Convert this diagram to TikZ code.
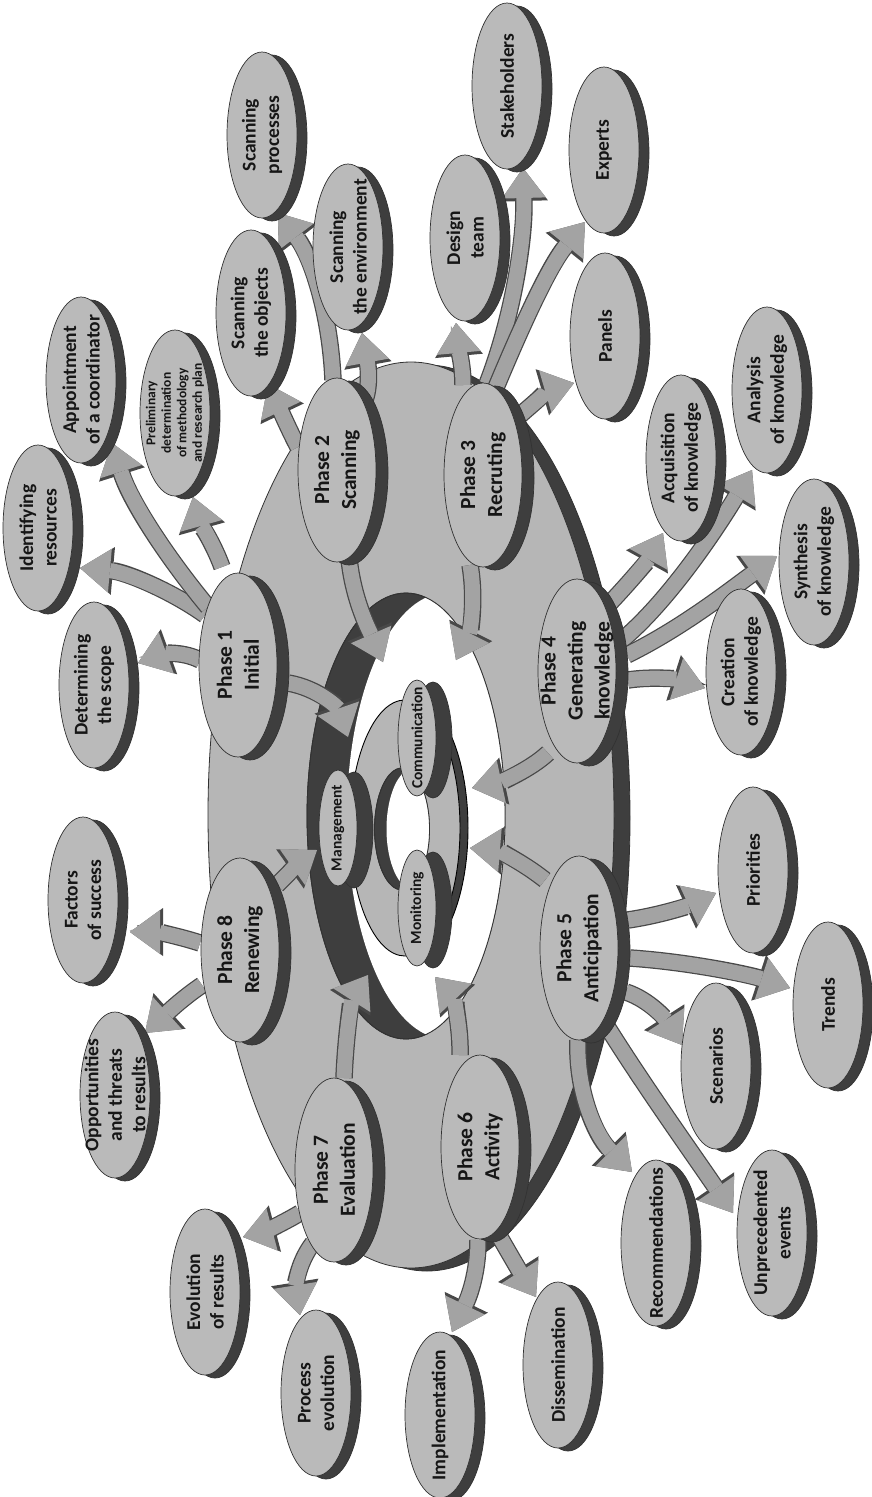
\documentclass[tikz,border=0pt]{standalone}
\usepackage{fontspec}
\setmainfont{Carlito}
\usetikzlibrary{arrows.meta,shapes.geometric,shadows}
\definecolor{facegray}{RGB}{186,186,186}
\definecolor{ringgray}{RGB}{182,182,182}
\definecolor{darkside}{RGB}{62,62,62}
\definecolor{edgegray}{RGB}{50,50,50}
\definecolor{arrowfill}{RGB}{163,163,163}
\definecolor{arrowedge}{RGB}{72,72,72}
\definecolor{txt}{RGB}{22,22,22}
\pgfdeclarelayer{ringlayer}
\pgfdeclarelayer{arrowlayer}
\pgfsetlayers{ringlayer,arrowlayer,main}
\tikzset{
  disk/.style={ellipse, inner sep=0pt, outer sep=0pt, fill=facegray, draw=edgegray, line width=0.7pt},
  phase/.style={disk, minimum width=78pt, minimum height=184pt,
     copy shadow={shadow xshift=12pt, shadow yshift=-3pt, fill=darkside, draw=edgegray}},
  leaf/.style={disk, minimum width=70pt, minimum height=166pt,
     copy shadow={shadow xshift=10pt, shadow yshift=-3pt, fill=darkside, draw=edgegray}},
  small/.style={disk, minimum width=38pt, minimum height=116pt,
     copy shadow={shadow xshift=16pt, shadow yshift=-2pt, fill=darkside, draw=edgegray}},
  lblbase/.style={rotate=90, align=center, inner sep=0pt, text=txt},
  plbl/.style={lblbase, font=\bfseries\fontsize{21.5}{27}\selectfont},
  llbl/.style={lblbase, font=\bfseries\fontsize{19.5}{23.5}\selectfont},
  slbl/.style={lblbase, font=\bfseries\fontsize{15.5}{18}\selectfont},
  tlbl/.style={lblbase, font=\bfseries\fontsize{13.5}{15.5}\selectfont},
  barrow/.style={draw=arrowfill, line width=15pt,
     -{Triangle[width=44pt,length=30pt,line width=0pt]},
     preaction={draw=arrowedge, line width=17.5pt, -{Triangle[width=48pt,length=33pt,line width=0pt]}}},
}
\begin{document}
\begin{tikzpicture}[x=1pt,y=-1pt]
\useasboundingbox (0,0) rectangle (871,1497);
% ---------- central rings ----------
\begin{pgfonlayer}{ringlayer}
\fill[white] (0,0) rectangle (871,1497);
\node[ellipse, minimum width=406pt, minimum height=906pt, inner sep=0pt, outer sep=0pt,
  fill=ringgray, draw=edgegray, line width=0.8pt,
  copy shadow={shadow xshift=16pt, shadow yshift=-3pt, fill=darkside, draw=edgegray}] (ring) at (411,815) {};
\node[ellipse, minimum width=198pt, minimum height=446pt, inner sep=0pt, outer sep=0pt,
  fill=darkside, draw=edgegray, line width=0.8pt] (hole) at (406,816) {};
\begin{scope}
  \clip (hole.center) ellipse [x radius=99pt, y radius=223pt];
  \fill[white] ([shift={(40,0)}]hole.center) ellipse [x radius=99pt, y radius=223pt];
\end{scope}
\draw[edgegray, line width=0.8pt] (hole.center) ellipse [x radius=99pt, y radius=223pt];
\node[ellipse, minimum width=110pt, minimum height=256pt, inner sep=0pt, outer sep=0pt,
  fill=ringgray, draw=black, line width=0.9pt,
  copy shadow={shadow xshift=8pt, shadow yshift=0pt, fill=darkside, draw=black}] (core) at (405,828) {};
\node[ellipse, minimum width=55pt, minimum height=122pt, inner sep=0pt, outer sep=0pt,
  fill=darkside, draw=edgegray, line width=0.8pt] (corehole) at (402,829) {};
\begin{scope}
  \clip (corehole.center) ellipse [x radius=27.5pt, y radius=61pt];
  \fill[white] ([shift={(12,0)}]corehole.center) ellipse [x radius=27.5pt, y radius=61pt];
\end{scope}
\draw[edgegray, line width=0.8pt] (corehole.center) ellipse [x radius=27.5pt, y radius=61pt];
\end{pgfonlayer}
% ---------- phases ----------
\node[phase] (p1) at (238,665) {};  \node[plbl] (p1t) at (p1) {Phase 1\\Initial};
\node[phase] (p2) at (337,470) {};  \node[plbl] (p2t) at (p2) {Phase 2\\Scanning};
\node[phase] (p3) at (483,475) {};  \node[plbl] (p3t) at (p3) {Phase 3\\Recruting};
\node[phase] (p4) at (577,671) {};  \node[plbl] (p4t) at (p4) {Phase 4\\Generating\\knowledge};
\node[phase] (p5) at (579,948) {};  \node[plbl] (p5t) at (p5) {Phase 5\\Anticipation};
\node[phase] (p6) at (480,1147) {}; \node[plbl] (p6t) at (p6) {Phase 6\\Activity};
\node[phase] (p7) at (334,1170) {}; \node[plbl] (p7t) at (p7) {Phase 7\\Evaluation};
\node[phase] (p8) at (240,950) {};  \node[plbl] (p8t) at (p8) {Phase 8\\Renewing};
% ---------- inner ----------
\node[small] (mgmt) at (338,828) {}; \node[slbl] (mgmtt) at (mgmt) {Management};
\node[small] (comm) at (417,738) {}; \node[slbl] (commt) at (comm) {Communication};
\node[small] (moni) at (417,908) {}; \node[slbl] (monit) at (moni) {Monitoring};
% ---------- leaves ----------
\node[leaf] (scope) at (94,685) {};     \node[llbl] (scopet) at (scope) {Determining\\the scope};
\node[leaf] (resources) at (38,528) {}; \node[llbl] (resourcest) at (resources) {Identifying\\resources};
\node[leaf] (coord) at (81,380) {};     \node[llbl] (coordt) at (coord) {Appointment\\of a coordinator};
\node[leaf] (prelim) at (175,413) {};   \node[tlbl] (prelimt) at (prelim) {Preliminary\\determination\\of methodology\\and research plan};
\node[leaf] (sobj) at (251,313) {};     \node[llbl] (sobjt) at (sobj) {Scanning\\the objects};
\node[leaf] (senv) at (348,247) {};     \node[llbl] (senvt) at (senv) {Scanning\\the environment};
\node[leaf] (sproc) at (262,135) {};    \node[llbl] (sproct) at (sproc) {Scanning\\processes};
\node[leaf] (design) at (465,238) {};   \node[llbl] (designt) at (design) {Design\\team};
\node[leaf] (stake) at (507,86) {};     \node[llbl] (staket) at (stake) {Stakeholders};
\node[leaf] (experts) at (604,150) {};  \node[llbl] (expertst) at (experts) {Experts};
\node[leaf] (panels) at (605,336) {};   \node[llbl] (panelst) at (panels) {Panels};
\node[leaf] (acq) at (681,458) {};      \node[llbl] (acqt) at (acq) {Acquisition\\of knowledge};
\node[leaf] (anal) at (767,390) {};     \node[llbl] (analt) at (anal) {Analysis\\of knowledge};
\node[leaf] (synth) at (814,562) {};    \node[llbl] (syntht) at (synth) {Synthesis\\of knowledge};
\node[leaf] (creat) at (741,672) {};    \node[llbl] (creatt) at (creat) {Creation\\of knowledge};
\node[leaf] (prior) at (753,870) {};    \node[llbl] (priort) at (prior) {Priorities};
\node[leaf] (trends) at (828,1005) {};  \node[llbl] (trendst) at (trends) {Trends};
\node[leaf] (scen) at (716,1066) {};    \node[llbl] (scent) at (scen) {Scenarios};
\node[leaf] (unpre) at (772,1233) {};   \node[llbl] (unpret) at (unpre) {Unprecedented\\events};
\node[leaf] (recom) at (656,1243) {};   \node[llbl] (recomt) at (recom) {Recommendations};
\node[leaf] (dissem) at (558,1365) {};  \node[llbl] (dissemt) at (dissem) {Dissemination};
\node[leaf] (impl) at (440,1415) {};    \node[llbl] (implt) at (impl) {Implementation};
\node[leaf] (proc) at (316,1393) {};    \node[llbl] (proct) at (proc) {Process\\evolution};
\node[leaf] (evol) at (205,1292) {};    \node[llbl] (evolt) at (evol) {Evolution\\of results};
\node[leaf] (opp) at (115,1095) {};     \node[llbl] (oppt) at (opp) {Opportunities\\and threats\\to results};
\node[leaf] (factors) at (83,900) {};   \node[llbl] (factorst) at (factors) {Factors\\of success};
% ---------- arrows ----------
\begin{pgfonlayer}{arrowlayer}
\draw[barrow] ([shift={(-38,-5)}]p1.center) .. controls (180,650) and (160,655) .. ([shift={(44,-22)}]scope.center);
\draw[barrow] ([shift={(-33,-50)}]p1.center) .. controls (170,590) and (125,572) .. ([shift={(42,40)}]resources.center);
\draw[barrow] ([shift={(-30,-58)}]p1.center) .. controls (165,555) and (130,500) .. ([shift={(31,63)}]coord.center);
\draw[barrow] ([shift={(-16,-98)}]p1.center) .. controls (214,545) and (200,522) .. ([shift={(18,84)}]prelim.center);
\draw[barrow] ([shift={(50,18)}]p1.center) .. controls (318,688) and (338,708) .. ([shift={(-57,-91)}]core.center);
\draw[barrow] ([shift={(-39,-23)}]p2.center) .. controls (290,432) and (278,405) .. ([shift={(17,71)}]sobj.center);
\draw[barrow] ([shift={(28,-70)}]p2.center) .. controls (372,380) and (366,355) .. ([shift={(14,86)}]senv.center);
\draw[barrow] ([shift={(-4,-90)}]p2.center) .. controls (330,310) and (310,255) .. ([shift={(16,78)}]sproc.center);
\draw[barrow] ([shift={(12,88)}]p2.center) .. controls (353,600) and (370,632) .. ([shift={(-22,-166)}]core.center);
\draw[barrow] ([shift={(-20,-90)}]p3.center) .. controls (463,365) and (458,345) .. ([shift={(-9,85)}]design.center);
\draw[barrow] ([shift={(4,-91)}]p3.center) .. controls (512,320) and (525,240) .. ([shift={(16,82)}]stake.center);
\draw[barrow] ([shift={(12,-85)}]p3.center) .. controls (520,330) and (548,268) .. ([shift={(-19,72)}]experts.center);
\draw[barrow] ([shift={(35,-58)}]p3.center) .. controls (535,402) and (550,390) .. ([shift={(-31,47)}]panels.center);
\draw[barrow] ([shift={(-13,90)}]p3.center) .. controls (476,600) and (470,632) .. ([shift={(51,-168)}]core.center);
\draw[barrow] ([shift={(33,-68)}]p4.center) .. controls (630,582) and (648,560) .. ([shift={(-18,75)}]acq.center);
\draw[barrow] ([shift={(45,-31)}]p4.center) .. controls (672,598) and (722,520) .. ([shift={(-15,80)}]anal.center);
\draw[barrow] ([shift={(50,-16)}]p4.center) .. controls (682,628) and (730,590) .. ([shift={(-37,-6)}]synth.center);
\draw[barrow] ([shift={(51,9)}]p4.center) .. controls (655,676) and (680,680) .. ([shift={(-36,16)}]creat.center);
\draw[barrow] ([shift={(-29,82)}]p4.center) .. controls (530,770) and (500,782) .. ([shift={(67,-40)}]core.center);
\draw[barrow] ([shift={(-34,-68)}]p5.center) .. controls (520,860) and (495,850) .. ([shift={(65,20)}]core.center);
\draw[barrow] ([shift={(49,-28)}]p5.center) .. controls (662,915) and (690,905) .. ([shift={(-37,23)}]prior.center);
\draw[barrow] ([shift={(51,10)}]p5.center) .. controls (690,962) and (750,975) .. ([shift={(-38,-17)}]trends.center);
\draw[barrow] ([shift={(47,44)}]p5.center) .. controls (650,1000) and (666,1020) .. ([shift={(-34,-21)}]scen.center);
\draw[barrow] ([shift={(24,72)}]p5.center) .. controls (640,1080) and (690,1150) .. ([shift={(-39,-20)}]unpre.center);
\draw[barrow] ([shift={(-1,92)}]p5.center) .. controls (576,1090) and (595,1135) .. ([shift={(-24,-71)}]recom.center);
\draw[barrow] ([shift={(-20,-92)}]p6.center) .. controls (461,1025) and (452,995) .. ([shift={(30,149)}]core.center);
\draw[barrow] ([shift={(-2,93)}]p6.center) .. controls (478,1280) and (465,1305) .. ([shift={(12,-83)}]impl.center);
\draw[barrow] ([shift={(17,85)}]p6.center) .. controls (510,1255) and (522,1275) .. ([shift={(-22,-68)}]dissem.center);
\draw[barrow] ([shift={(10,-92)}]p7.center) .. controls (346,1030) and (352,1000) .. ([shift={(-37,147)}]core.center);
\draw[barrow] ([shift={(-34,43)}]p7.center) .. controls (280,1225) and (262,1232) .. ([shift={(38,-55)}]evol.center);
\draw[barrow] ([shift={(-21,73)}]p7.center) .. controls (296,1265) and (296,1290) .. ([shift={(-16,-78)}]proc.center);
\draw[barrow] ([shift={(-40,-7)}]p8.center) .. controls (175,935) and (155,932) .. ([shift={(47,32)}]factors.center);
\draw[barrow] ([shift={(-38,35)}]p8.center) .. controls (180,1000) and (165,1015) .. ([shift={(30,-62)}]opp.center);
\draw[barrow] ([shift={(37,-65)}]p8.center) .. controls (290,872) and (300,862) .. ([shift={(-21,22)}]mgmt.center);
\end{pgfonlayer}
\end{tikzpicture}
\end{document}
